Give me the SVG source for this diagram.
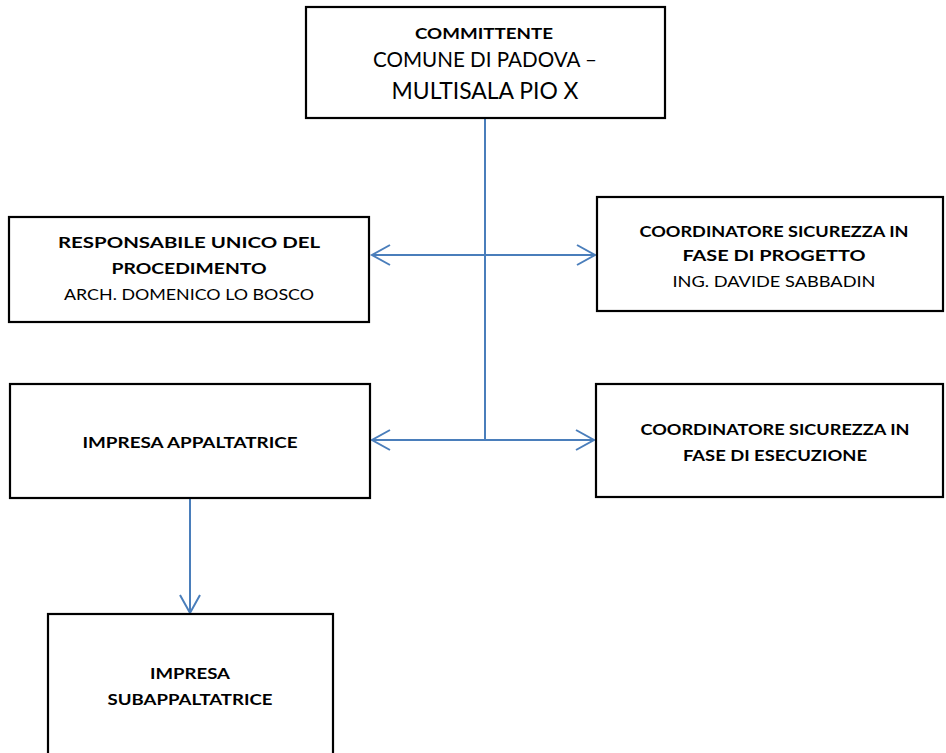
<svg xmlns="http://www.w3.org/2000/svg" width="946" height="753" viewBox="0 0 946 753">
<style>
.box{fill:#fff;stroke:#000;stroke-width:2.2}
.t{font-family:Lato,"Liberation Sans",sans-serif;fill:#000;text-anchor:middle}
.b{font-weight:bold;font-size:15.5px}
.r{font-size:15.5px}
.con{stroke:#4A7EBB;stroke-width:2;fill:none}
</style>
<defs>
<marker id="arr" markerUnits="userSpaceOnUse" markerWidth="22" markerHeight="24" refX="19" refY="11" orient="auto">
<path d="M1,1 L19,11 L1,21" fill="none" stroke="#4A7EBB" stroke-width="2"/>
</marker>
</defs>
<rect width="946" height="753" fill="#fff"/>
<g id="connectors">
<path class="con" d="M485,113 V440"/>
<path class="con" d="M485,255 H372" marker-end="url(#arr)"/>
<path class="con" d="M485,255 H595" marker-end="url(#arr)"/>
<path class="con" d="M485,440 H372" marker-end="url(#arr)"/>
<path class="con" d="M485,440 H594" marker-end="url(#arr)"/>
<path class="con" d="M190,498 V613" marker-end="url(#arr)"/>
</g>
<g id="committente">
<rect class="box" x="306" y="7" width="359" height="111"/>
<text class="t b" x="484" y="39" textLength="138" lengthAdjust="spacingAndGlyphs">COMMITTENTE</text>
<text class="t" x="485" y="67" font-size="21" textLength="224" lengthAdjust="spacingAndGlyphs">COMUNE DI PADOVA –</text>
<text class="t" x="485" y="99" font-size="23" textLength="187" lengthAdjust="spacingAndGlyphs">MULTISALA PIO X</text>
</g>
<g id="rup">
<rect class="box" x="9" y="217" width="360" height="105"/>
<text class="t b" x="189" y="248" textLength="262" lengthAdjust="spacingAndGlyphs">RESPONSABILE UNICO DEL</text>
<text class="t b" x="189" y="274" textLength="155" lengthAdjust="spacingAndGlyphs">PROCEDIMENTO</text>
<text class="t r" x="189" y="300" textLength="250" lengthAdjust="spacingAndGlyphs">ARCH. DOMENICO LO BOSCO</text>
</g>
<g id="csp">
<rect class="box" x="597" y="197" width="346" height="114"/>
<text class="t b" x="774" y="237" textLength="269" lengthAdjust="spacingAndGlyphs">COORDINATORE SICUREZZA IN</text>
<text class="t b" x="774" y="261" textLength="183" lengthAdjust="spacingAndGlyphs">FASE DI PROGETTO</text>
<text class="t r" x="774" y="287" textLength="203" lengthAdjust="spacingAndGlyphs">ING. DAVIDE SABBADIN</text>
</g>
<g id="impresa">
<rect class="box" x="10" y="384" width="360" height="114"/>
<text class="t b" x="190" y="448" textLength="215" lengthAdjust="spacingAndGlyphs">IMPRESA APPALTATRICE</text>
</g>
<g id="cse">
<rect class="box" x="596" y="384" width="347" height="113"/>
<text class="t b" x="775" y="435" textLength="269" lengthAdjust="spacingAndGlyphs">COORDINATORE SICUREZZA IN</text>
<text class="t b" x="775" y="461" textLength="184" lengthAdjust="spacingAndGlyphs">FASE DI ESECUZIONE</text>
</g>
<g id="subappalto">
<rect class="box" x="48" y="614" width="285" height="160"/>
<text class="t b" x="190" y="679" textLength="80" lengthAdjust="spacingAndGlyphs">IMPRESA</text>
<text class="t b" x="190" y="705" textLength="165" lengthAdjust="spacingAndGlyphs">SUBAPPALTATRICE</text>
</g>
</svg>
